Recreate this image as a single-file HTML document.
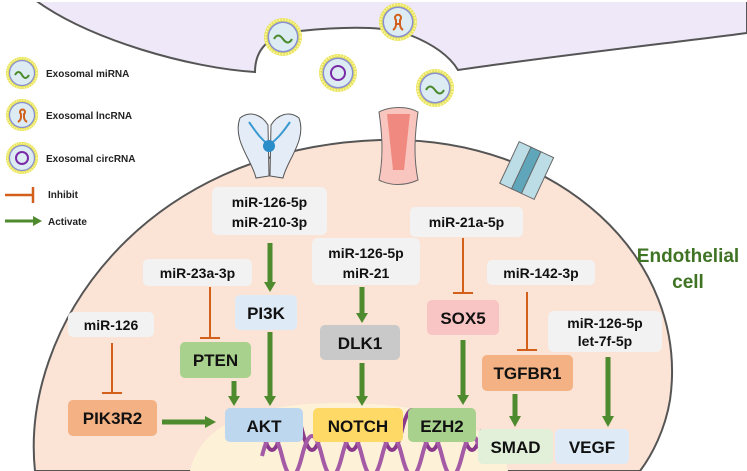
<!DOCTYPE html>
<html><head><meta charset="utf-8"><style>
html,body{margin:0;padding:0;background:#fff}
svg{display:block}
text{font-family:"Liberation Sans",Arial,sans-serif;font-weight:bold}
</style></head><body>
<svg width="747" height="471" viewBox="0 0 747 471" xmlns="http://www.w3.org/2000/svg">
<defs>
<g id="exo">
<circle r="19" fill="#e6e25a"/>
<circle r="17.5" fill="none" stroke="#fbf7a0" stroke-width="2" stroke-dasharray="1.5 1.5"/>
<circle r="15.5" fill="#8a8fd0"/>
<circle r="14" fill="#dcecf2"/>
</g>
</defs>
<path d="M35,0 C90,40 190,68 255,72 C255,50 268,34 300,31 C340,27 385,25 410,35 C440,47 452,60 458,70 C560,55 680,42 747,33 L747,0 Z" fill="#eee8f8" stroke="#555" stroke-width="2"/>
<rect x="0" y="0" width="747" height="2" fill="#fff"/>
<path d="M35,471 C20,330 140,148 380,140 C560,135 690,260 670,400 C665,430 652,455 640,471 Z" fill="#fbe3d5" stroke="#555" stroke-width="2"/>
<path d="M190,471 C200,425 250,403 340,403 C430,403 500,425 508,471 Z" fill="#fdf1d8"/>
<g fill="none" stroke="#8a3a8a" stroke-width="4">
<path d="M262,430 Q272,470 282,430 T302,430 T322,430 T342,430 T362,430 T382,430 T402,430 T422,430 T442,430 T462,430 T482,430"/>
<path d="M262,456 Q272,416 282,456 T302,456 T322,456 T342,456 T362,456 T382,456 T402,456 T422,456 T442,456 T462,456 T482,456" stroke="#a55aa5"/>
</g>
<g>
<path d="M240,118 C250,110 262,115 268,125 L269,176 L256,178 C252,160 232,140 240,118 Z" fill="#e3ecf7" stroke="#555"/>
<path d="M299,118 C289,110 277,115 271,125 L270,176 L283,178 C287,160 307,140 299,118 Z" fill="#e3ecf7" stroke="#555"/>
<path d="M249,122 C258,135 262,140 269,145 C276,140 281,135 290,122" fill="none" stroke="#3a9ad0" stroke-width="2"/>
<circle cx="269" cy="146" r="6" fill="#2a8cc8"/>
</g>
<g>
<path d="M379,112 C390,106 408,106 418,112 C414,140 414,160 418,180 C405,186 390,186 379,180 C383,160 383,140 379,112 Z" fill="#f8c6bf" stroke="#666"/>
<path d="M387,114 L410,114 L404,170 L393,170 Z" fill="#f08a80"/>
</g>
<g transform="rotate(25 528 170)">
<rect x="508" y="148" width="14" height="46" fill="#bcdde6" stroke="#666"/>
<rect x="521" y="148" width="12" height="46" fill="#5fa6bb" stroke="#666"/>
<rect x="532" y="148" width="14" height="46" fill="#bcdde6" stroke="#666"/>
</g>
<use href="#exo" x="283" y="37"/><path d="M274,39 q4,-7 9,0 t9,0" fill="none" stroke="#4a8a2a" stroke-width="2"/>
<use href="#exo" x="338" y="73"/><circle cx="338" cy="73" r="7" fill="none" stroke="#7a2aa8" stroke-width="2"/>
<use href="#exo" x="398" y="22"/><path d="M393,30 q3,-2 3,-6 v-4 a3,3 0 1 1 4,0 v4 q0,4 3,6 M395,24 h6" fill="none" stroke="#d2601a" stroke-width="2"/>
<use href="#exo" x="435" y="88"/><path d="M426,90 q4,-7 9,0 t9,0" fill="none" stroke="#4a8a2a" stroke-width="2"/>
<g transform="translate(22,73) scale(0.85)"><use href="#exo"/></g><path d="M15,75 q3.5,-6 7,0 t7,0" fill="none" stroke="#4a8a2a" stroke-width="2"/>
<g transform="translate(22,115) scale(0.85)"><use href="#exo"/></g><path d="M18,122 q3,-2 3,-5 v-3 a2.5,2.5 0 1 1 3,0 v3 q0,3 3,5" fill="none" stroke="#d2601a" stroke-width="2"/>
<g transform="translate(22,158) scale(0.85)"><use href="#exo"/></g><circle cx="22" cy="158" r="6" fill="none" stroke="#7a2aa8" stroke-width="2"/>
<text x="46" y="77" font-size="10" fill="#222">Exosomal miRNA</text>
<text x="46" y="119" font-size="10" fill="#222">Exosomal lncRNA</text>
<text x="46" y="162" font-size="10" fill="#222">Exosomal circRNA</text>
<path d="M5,195 H33 M33,187 V203" stroke="#d2601a" stroke-width="2.5" fill="none"/>
<text x="48" y="198" font-size="10" fill="#222">Inhibit</text>
<path d="M5,221 H33" stroke="#4e8a2e" stroke-width="3"/><path d="M33,216 L42,221 L33,226 Z" fill="#4e8a2e"/>
<text x="48" y="225" font-size="10" fill="#222">Activate</text>
<g font-size="14" text-anchor="middle" fill="#111">
<rect x="212" y="187" width="115" height="48" rx="6" fill="#f2f2f2"/>
<text x="269.5" y="207">miR-126-5p</text><text x="269.5" y="227">miR-210-3p</text>
<rect x="143" y="259" width="109" height="27" rx="5" fill="#f2f2f2"/><text x="197.5" y="278">miR-23a-3p</text>
<rect x="68" y="312" width="86" height="25" rx="5" fill="#f2f2f2"/><text x="111" y="330">miR-126</text>
<rect x="312" y="238" width="108" height="47" rx="6" fill="#f2f2f2"/>
<text x="366" y="258">miR-126-5p</text><text x="366" y="278">miR-21</text>
<rect x="410" y="207" width="113" height="30" rx="5" fill="#f2f2f2"/><text x="466.5" y="227">miR-21a-5p</text>
<rect x="487" y="260" width="108" height="25" rx="5" fill="#f2f2f2"/><text x="541" y="278">miR-142-3p</text>
<rect x="548" y="311" width="114" height="41" rx="6" fill="#f2f2f2"/>
<text x="605" y="328">miR-126-5p</text><text x="605" y="346">let-7f-5p</text>
</g>
<g font-size="17" text-anchor="middle" fill="#111">
<rect x="235" y="295" width="62" height="35" rx="5" fill="#deebf7"/><text x="266" y="319">PI3K</text>
<rect x="180" y="342" width="71" height="36" rx="5" fill="#a9d18e"/><text x="215.5" y="366">PTEN</text>
<rect x="68" y="400" width="89" height="36" rx="5" fill="#f4b183"/><text x="112.5" y="424">PIK3R2</text>
<rect x="225" y="408" width="78" height="34" rx="5" fill="#bdd7ee"/><text x="264" y="432">AKT</text>
<rect x="313" y="408" width="90" height="34" rx="5" fill="#ffd966"/><text x="358" y="432">NOTCH</text>
<rect x="408" y="408" width="68" height="34" rx="5" fill="#a9d18e"/><text x="442" y="432">EZH2</text>
<rect x="478" y="429" width="75" height="35" rx="5" fill="#e2f0d9"/><text x="515.5" y="453">SMAD</text>
<rect x="555" y="429" width="74" height="35" rx="5" fill="#deebf7"/><text x="592" y="453">VEGF</text>
<rect x="320" y="325" width="80" height="35" rx="5" fill="#c9c9c9"/><text x="360" y="349">DLK1</text>
<rect x="427" y="300" width="72" height="35" rx="5" fill="#f8c4c4"/><text x="463" y="324">SOX5</text>
<rect x="482" y="355" width="91" height="36" rx="5" fill="#f4b183"/><text x="527.5" y="379">TGFBR1</text>
</g>
<text x="688" y="262" font-size="19" text-anchor="middle" fill="#3f7424">Endothelial</text>
<text x="688" y="288" font-size="19" text-anchor="middle" fill="#3f7424">cell</text>
<g stroke="#d2601a" stroke-width="2" fill="none">
<path d="M210,287 V338 M200,338 H220"/>
<path d="M112,343 V393 M102,393 H122"/>
<path d="M463,238 V293 M453,293 H473"/>
<path d="M527,292 V350 M517,350 H537"/>
</g>
<g stroke="#4e8a2e" stroke-width="5" fill="none">
<path d="M270,243 V282"/><path d="M270,332 V396"/><path d="M234,381 V396"/>
<path d="M162,422 H205"/><path d="M362,287 V313"/><path d="M362,363 V396"/>
<path d="M463,340 V395"/><path d="M515,394 V416"/><path d="M608,357 V416"/>
</g>
<g fill="#4e8a2e">
<path d="M264,282 L276,282 L270,292 Z"/><path d="M264,396 L276,396 L270,406 Z"/><path d="M228,396 L240,396 L234,406 Z"/>
<path d="M205,416 L205,428 L216,422 Z"/><path d="M356,313 L368,313 L362,323 Z"/><path d="M356,396 L368,396 L362,406 Z"/>
<path d="M457,395 L469,395 L463,405 Z"/><path d="M509,416 L521,416 L515,427 Z"/><path d="M602,416 L614,416 L608,427 Z"/>
</g>
</svg>
</body></html>
